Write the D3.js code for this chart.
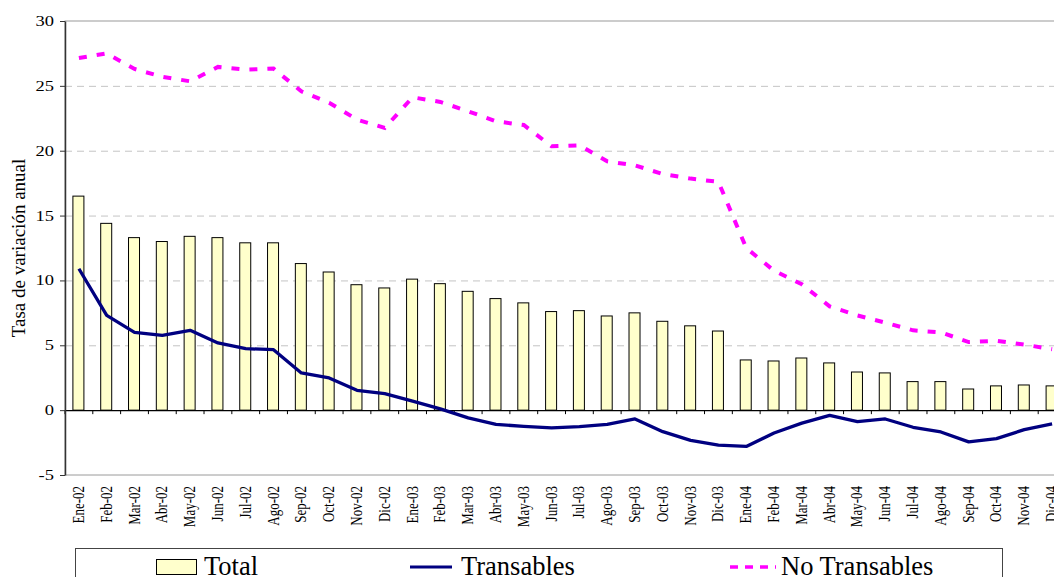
<!DOCTYPE html>
<html>
<head>
<meta charset="utf-8">
<script src="https://cdn.jsdelivr.net/npm/d3@7"></script>
<style>
  html, body { margin: 0; padding: 0; background: #fff; overflow: hidden; }
  svg { display: block; font-family: "Liberation Serif", "Times New Roman", serif; }
</style>
</head>
<body>
<svg id="chart" width="1054" height="577"></svg>
<script>
// Monthly categories, Jan 2002 – Dec 2004
const months = ["Ene-02","Feb-02","Mar-02","Abr-02","May-02","Jun-02","Jul-02","Ago-02","Sep-02","Oct-02","Nov-02","Dic-02",
                "Ene-03","Feb-03","Mar-03","Abr-03","May-03","Jun-03","Jul-03","Ago-03","Sep-03","Oct-03","Nov-03","Dic-03",
                "Ene-04","Feb-04","Mar-04","Abr-04","May-04","Jun-04","Jul-04","Ago-04","Sep-04","Oct-04","Nov-04","Dic-04"];

// Annual rate of change (%)
const total = [16.5,14.4,13.3,13.0,13.4,13.3,12.9,12.9,11.3,10.65,9.67,9.42,
               10.1,9.75,9.16,8.6,8.27,7.6,7.67,7.26,7.5,6.85,6.5,6.1,
               3.87,3.79,4.02,3.64,2.94,2.87,2.2,2.2,1.63,1.87,1.94,1.87];
const transables = [10.9,7.3,6.0,5.77,6.15,5.18,4.74,4.66,2.87,2.48,1.53,1.27,
                    0.7,0.1,-0.6,-1.1,-1.25,-1.37,-1.27,-1.1,-0.68,-1.66,-2.33,-2.7,
                    -2.8,-1.76,-1.0,-0.4,-0.89,-0.68,-1.32,-1.68,-2.45,-2.2,-1.5,-1.06];
const noTransables = [27.15,27.5,26.3,25.7,25.35,26.46,26.25,26.33,24.58,23.7,22.4,21.76,
                      24.12,23.76,23.04,22.27,21.98,20.34,20.42,19.18,18.87,18.2,17.85,17.6,
                      12.5,10.75,9.7,8.0,7.3,6.75,6.15,6.0,5.25,5.35,5.05,4.7];

const yTicks = [-5,0,5,10,15,20,25,30];
const yTitle = "Tasa de variación anual";
const legendLabels = ["Total","Transables","No Transables"];

const svg = d3.select("#chart");
const plot = { left: 65, top: 21, right: 1066, bottom: 475 };
const widen = 1.32; // horizontal widening of the small axis lettering

const x = d3.scaleBand().domain(months).range([plot.left, plot.right]).paddingInner(0).paddingOuter(0);
const y = d3.scaleLinear().domain([-5, 30]).range([plot.bottom, plot.top]);
const cx = d => x(d) + x.bandwidth() / 2;

// plot area frame (grey)
svg.append("rect")
  .attr("x", plot.left).attr("y", plot.top)
  .attr("width", plot.right - plot.left).attr("height", plot.bottom - plot.top)
  .attr("fill", "none").attr("stroke", "#9a9a9a").attr("stroke-width", 1);

// dashed horizontal gridlines
svg.append("g")
  .selectAll("line")
  .data(yTicks.filter(t => t !== 0 && t !== -5 && t !== 30))
  .join("line")
  .attr("x1", plot.left).attr("x2", plot.right)
  .attr("y1", d => y(d) + 0.5).attr("y2", d => y(d) + 0.5)
  .attr("stroke", "#c4c4c4").attr("stroke-width", 1)
  .attr("stroke-dasharray", "7,5");

// bars: Total
const barW = 11;
svg.append("g")
  .selectAll("rect")
  .data(months)
  .join("rect")
  .attr("x", (d) => cx(d) - barW / 2 - 0.5)
  .attr("y", (d, i) => Math.min(y(total[i]), y(0)))
  .attr("width", barW)
  .attr("height", (d, i) => Math.abs(y(0) - y(total[i])))
  .attr("fill", "#FFFFCC")
  .attr("stroke", "#000").attr("stroke-width", 1);

// category axis at zero
const xAxis = d3.axisBottom(x).tickSize(0).tickFormat("");
svg.append("g")
  .attr("transform", `translate(0,${y(0)})`)
  .call(xAxis)
  .call(g => g.select(".domain").attr("stroke", "#000").attr("stroke-width", 1.2));
svg.append("g")
  .selectAll("line")
  .data(months)
  .join("line")
  .attr("x1", d => x(d)).attr("x2", d => x(d))
  .attr("y1", y(0)).attr("y2", y(0) + 4)
  .attr("stroke", "#000").attr("stroke-width", 1);

// value axis
const yAxis = d3.axisLeft(y).tickValues(yTicks).tickSize(5).tickSizeOuter(0).tickFormat("");
svg.append("g")
  .attr("transform", `translate(${plot.left},0)`)
  .call(yAxis)
  .call(g => g.select(".domain").attr("stroke", "#333").attr("stroke-width", 1.5))
  .call(g => g.selectAll(".tick line").attr("stroke", "#333"));
svg.append("g")
  .selectAll("text")
  .data(yTicks)
  .join("text")
  .attr("transform", d => `translate(54,${y(d) + 5}) scale(${widen},1)`)
  .attr("text-anchor", "end")
  .attr("font-size", 14)
  .text(d => d);

// month labels, rotated
svg.append("g")
  .selectAll("text")
  .data(months)
  .join("text")
  .attr("transform", d => `translate(${cx(d) + 5},${plot.bottom + 11}) scale(${widen},1) rotate(-90)`)
  .attr("text-anchor", "end")
  .attr("font-size", 13)
  .text(d => d);

// y title
svg.append("text")
  .attr("transform", `translate(25,${248}) rotate(-90)`)
  .attr("text-anchor", "middle")
  .attr("font-size", 19)
  .text(yTitle);

// lines
const line = (vals) => d3.line().x((d, i) => cx(months[i])).y(d => y(d))(vals);

svg.append("path")
  .attr("d", line(noTransables))
  .attr("fill", "none").attr("stroke", "#FF00FF").attr("stroke-width", 4)
  .attr("stroke-dasharray", "8,10");

svg.append("path")
  .attr("d", line(transables))
  .attr("fill", "none").attr("stroke", "#000080").attr("stroke-width", 3.3)
  .attr("stroke-linejoin", "round");

// legend
const lg = svg.append("g");
lg.append("rect")
  .attr("x", 75.5).attr("y", 548.5).attr("width", 927).attr("height", 40)
  .attr("fill", "#fff").attr("stroke", "#444").attr("stroke-width", 1);
lg.append("rect")
  .attr("x", 156.5).attr("y", 559.5).attr("width", 40).attr("height", 15)
  .attr("fill", "#FFFFCC").attr("stroke", "#000");
lg.append("text").attr("x", 204).attr("y", 575).attr("font-size", 26.5).text(legendLabels[0]);
lg.append("line")
  .attr("x1", 410).attr("x2", 452).attr("y1", 567).attr("y2", 567)
  .attr("stroke", "#000080").attr("stroke-width", 3);
lg.append("text").attr("x", 461).attr("y", 575).attr("font-size", 26.5).text(legendLabels[1]);
lg.append("line")
  .attr("x1", 730).attr("x2", 776).attr("y1", 567).attr("y2", 567)
  .attr("stroke", "#FF00FF").attr("stroke-width", 3.5).attr("stroke-dasharray", "8,7");
lg.append("text").attr("x", 781).attr("y", 575).attr("font-size", 26.5).text(legendLabels[2]);
</script>
</body>
</html>
